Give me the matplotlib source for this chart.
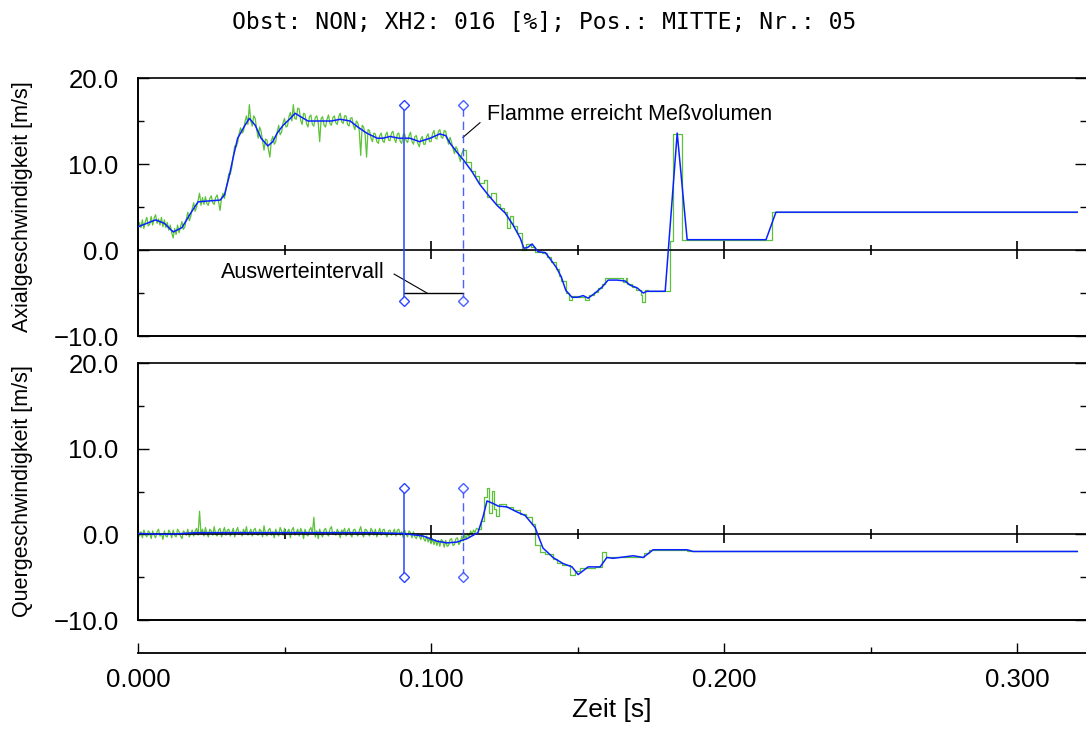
import numpy as np
import matplotlib
matplotlib.use("Agg")
import matplotlib.pyplot as plt
from matplotlib.ticker import MultipleLocator, FuncFormatter

plt.rcParams['font.family'] = ['Liberation Sans', 'DejaVu Sans']

TITLE = "Obst: NON; XH2: 016 [%]; Pos.: MITTE; Nr.: 05"
YLABEL_TOP = "Axialgeschwindigkeit [m/s]"
YLABEL_BOT = "Quergeschwindigkeit [m/s]"
XLABEL = "Zeit [s]"

# evaluation interval
T_START = 0.0908
T_END = 0.1108
MARK_TOP = [-5.9, 16.9]
MARK_BOT = [-5.0, 5.4]
INTERVAL_LEVEL = -5.0

# raw signal, dense part sampled every SAMPLE_DT
SAMPLE_DT = 0.0005
top_raw_dense = [
    2.3, 3.2, 2.6, 3.5, 2.5, 3.3, 3.8, 2.8, 3.0, 3.9,
    2.9, 3.7, 4.1, 3.1, 3.6, 2.9, 3.8, 2.7, 3.5, 2.6,
    3.2, 2.3, 2.9, 2.0, 1.4, 2.5, 1.8, 2.9, 2.0, 2.7,
    3.3, 2.4, 2.7, 3.6, 4.4, 3.4, 3.9, 4.8, 5.5, 4.5,
    5.0, 5.8, 6.6, 5.2, 6.1, 5.3, 6.2, 5.4, 5.2, 6.0,
    6.3, 5.5, 5.3, 6.1, 6.4, 5.6, 4.6, 6.0, 6.6, 6.0,
    7.0, 7.9, 8.9, 8.8, 9.6, 10.9, 12.1, 12.0, 12.5, 13.5,
    14.2, 13.6, 13.8, 14.9, 15.6, 14.6, 16.9, 15.0, 14.4, 15.6,
    15.3, 14.0, 13.0, 14.3, 13.8, 12.7, 11.6, 12.9, 12.8, 11.7,
    10.8, 12.7, 13.2, 12.3, 12.6, 13.7, 14.5, 13.4, 13.7, 14.8,
    15.3, 14.3, 14.4, 15.5, 16.0, 15.0, 16.9, 15.3, 15.2, 16.5,
    16.4, 15.1, 14.6, 15.9, 15.8, 14.7, 14.3, 15.5, 15.7, 14.6,
    14.4, 15.4, 15.6, 14.8, 12.6, 15.3, 15.5, 14.5, 14.3, 15.2,
    15.7, 14.7, 14.5, 15.4, 15.6, 14.8, 14.6, 15.5, 15.9, 14.9,
    14.7, 15.6, 15.6, 14.6, 14.4, 15.3, 15.4, 14.5, 14.0, 15.0,
    14.8, 13.9, 11.0, 14.5, 14.3, 13.4, 10.8, 14.0, 13.9, 13.0,
    12.6, 13.6, 13.5, 12.6, 12.4, 13.3, 13.6, 12.7, 12.5, 13.4,
    13.7, 12.8, 12.7, 13.6, 13.8, 12.9, 12.5, 13.5, 13.6, 12.6,
    12.4, 13.4, 13.5, 12.7, 12.5, 13.3, 13.7, 12.6, 12.3, 13.2,
    13.3, 12.4, 12.0, 12.9, 13.2, 12.3, 12.3, 13.2, 13.5, 12.6,
    12.6, 13.5, 13.9, 13.0, 12.9, 13.8, 14.0, 13.1, 13.0, 13.9,
    13.8, 12.9, 12.3, 13.1, 12.5, 11.8, 11.2, 12.0, 11.7, 10.9,
    10.3, 11.2, 11.6,
]
# raw signal, held (step) part
top_raw_step_t = [
    0.112, 0.1135, 0.115, 0.1165, 0.118, 0.119, 0.1205, 0.122, 0.1235, 0.125,
    0.1258, 0.1268, 0.128, 0.1295, 0.131, 0.1325, 0.134, 0.1355, 0.138, 0.1395,
    0.141, 0.1425, 0.1435, 0.1445, 0.146, 0.147, 0.148, 0.150, 0.1525, 0.154,
    0.1555, 0.157, 0.1585, 0.1595, 0.162, 0.1655, 0.1665, 0.167, 0.1685, 0.170,
    0.1715, 0.172, 0.173, 0.174, 0.1816, 0.1826, 0.1857, 0.2164, 0.3205,
]
top_raw_step_v = [
    10.2, 9.2, 8.6, 7.8, 8.1, 6.2, 6.6, 5.4, 4.9, 4.4,
    2.6, 4.0, 2.8, 2.0, 0.0, 0.7, 0.4, -0.2, -0.3, -0.8,
    -1.4, -2.2, -3.0, -3.6, -5.0, -5.8, -5.3, -5.5, -5.8, -5.2,
    -4.9, -4.4, -4.0, -3.3, -3.3, -3.7, -3.2, -3.9, -4.3, -4.7,
    -5.2, -6.0, -4.6, -4.8, 1.0, 13.5, 1.2, 4.4, 4.4,
]
# smoothed signal
top_smooth_t = [
    0.0, 0.003, 0.006, 0.009, 0.012, 0.015, 0.018, 0.0205, 0.024, 0.028,
    0.0295, 0.031, 0.0325, 0.034, 0.0365, 0.038, 0.040, 0.042, 0.0443, 0.046,
    0.0475, 0.0495, 0.052, 0.0536, 0.0555, 0.058, 0.062, 0.066, 0.069, 0.0724,
    0.075, 0.078, 0.0816, 0.0836, 0.086, 0.089, 0.0928, 0.096, 0.0997, 0.103,
    0.105, 0.1065, 0.109, 0.111, 0.114, 0.1167, 0.1195, 0.1225, 0.1253, 0.128,
    0.1304, 0.1317, 0.133, 0.1345, 0.1365, 0.139, 0.141, 0.1427, 0.1444, 0.146,
    0.1481, 0.150, 0.1519, 0.1536, 0.156, 0.1584, 0.1604, 0.1635, 0.1662, 0.168,
    0.1703, 0.1724, 0.1737, 0.1799, 0.184, 0.1874, 0.2143, 0.2177, 0.3205,
]
top_smooth_v = [
    2.7, 3.1, 3.5, 3.1, 2.1, 2.6, 4.3, 5.6, 5.7, 5.8,
    6.4, 8.4, 10.8, 13.0, 14.5, 15.3, 14.5, 13.0, 12.1, 12.6,
    13.6, 14.5, 15.3, 15.9, 15.5, 15.0, 15.0, 15.0, 15.2, 15.0,
    14.3, 13.6, 13.0, 13.0, 13.2, 13.0, 13.0, 12.6, 13.0, 13.5,
    13.3, 12.4, 11.3, 10.5, 9.1, 7.6, 6.4, 5.2, 4.3, 2.9,
    1.4, 0.2, 0.3, 0.7, -0.2, -0.3, -1.2, -2.0, -3.1, -4.7,
    -5.5, -5.5, -5.3, -5.6, -5.0, -4.3, -3.5, -3.5, -3.6, -4.1,
    -4.4, -5.0, -4.8, -4.8, 13.6, 1.2, 1.2, 4.4, 4.4,
]

bot_raw_dense = [
    0.6, -0.2, 0.3, -0.4, 0.5, 0.0, -0.3, 0.4, 0.2, -0.5,
    0.4, -0.1, -0.4, 0.3, 0.6, -0.2, 0.1, -0.6, 0.4, -0.2,
    -0.3, 0.5, 0.2, -0.4, 0.5, -0.1, -0.3, 0.6, 0.3, -0.2,
    -0.5, 0.4, 0.2, -0.1, 0.6, -0.3, 0.1, 0.5, -0.2, 0.4,
    0.7, -0.1, 2.7, 0.0, 0.6, -0.2, 0.8, 0.1, -0.3, 0.6,
    0.4, -0.1, 0.9, 0.0, -0.2, 0.5, 0.7, -0.3, 0.3, 0.8,
    -0.1, 0.5, 0.6, -0.2, 0.2, 0.7, -0.3, 0.4, 0.8, 0.0,
    0.3, -0.2, 0.6, 0.1, 0.9, -0.1, 0.2, 0.6, -0.2, 0.5,
    0.7, 0.0, -0.1, 0.6, 0.4, -0.3, 1.0, 0.1, -0.2, 0.5,
    0.7, -0.1, 0.3, -0.4, 0.6, 0.1, -0.2, 0.8, 0.4, -0.1,
    0.7, 0.0, 0.3, 0.6, -0.4, 0.5, 0.8, -0.1, 0.2, 0.6,
    -0.2, 0.7, 0.3, -0.5, 0.6, 0.0, -0.2, 0.5, 0.8, 0.1,
    2.0, -0.3, 0.4, -0.5, 0.6, 0.0, -0.3, 0.5, 0.7, 0.1,
    -0.2, 0.6, 0.9, 0.0, 0.3, -0.1, 0.6, 0.2, -0.4, 0.5,
    0.3, 0.7, -0.2, 0.4, 0.7, 0.0, -0.3, 0.5, 0.6, 0.1,
    -0.2, 0.4, 0.9, 0.0, -0.3, 0.6, 0.5, 0.1, -0.2, 0.7,
    0.4, -0.1, 0.6, -0.3, 0.2, 0.7, -0.1, 0.5, 0.6, 0.0,
    -0.3, 0.4, 0.5, -0.1, 0.2, 0.6, -0.2, 0.5, 0.6, -0.1,
    0.3, -0.4, 0.5, 0.0, -0.3, 0.4, 0.2, -0.4, 0.3, -0.3,
    -0.5, 0.1, -0.2, -0.6, 0.0, -0.5, -0.8, -0.2, -0.9, -0.4,
    -1.1, -0.5, -1.2, -0.6, -1.3, -0.7, -1.4, -0.6, -0.8, -1.5,
    -0.7, -1.4, -1.3, -0.6, -0.5, -1.3, -1.2, -0.5, -0.4, -1.2,
    -0.9, -0.2, -0.8, -0.1, -0.5, 0.1, -0.3, 0.4, 0.0, 0.5,
    0.2, 0.7, 0.6,
]
bot_raw_step_t = [
    0.117, 0.118, 0.1192, 0.1198, 0.1208, 0.1215, 0.1222, 0.1232, 0.1255, 0.128,
    0.1305, 0.1325, 0.1345, 0.1355, 0.1372, 0.139, 0.1415, 0.143, 0.1448, 0.1475,
    0.149, 0.151, 0.156, 0.1585, 0.1598, 0.164, 0.1705, 0.1725, 0.1745, 0.1875,
    0.3205,
]
bot_raw_step_v = [
    1.6, 4.4, 5.4, 2.5, 5.1, 3.0, 2.1, 3.5, 3.2, 2.8,
    2.4, 2.0, 1.2, -1.2, -2.1, -2.3, -2.9, -3.3, -3.6, -4.8,
    -4.3, -3.9, -3.8, -2.1, -2.7, -2.6, -2.7, -2.2, -1.8, -2.0,
    -2.0,
]
bot_smooth_t = [
    0.0, 0.01, 0.015, 0.02, 0.05, 0.08, 0.0904, 0.0973, 0.102, 0.1055,
    0.1089, 0.1123, 0.116, 0.1177, 0.1191, 0.1212, 0.1229, 0.1259, 0.1294, 0.1321,
    0.1355, 0.1382, 0.1416, 0.145, 0.1481, 0.1502, 0.1536, 0.1577, 0.160, 0.1621,
    0.169, 0.1724, 0.1758, 0.1874, 0.1894, 0.3205,
]
bot_smooth_v = [
    0.1, 0.0, 0.1, 0.2, 0.2, 0.2, 0.1, -0.2, -0.8, -1.0,
    -0.9, -0.5, 0.2, 2.0, 3.9, 3.6, 3.3, 3.2, 2.6, 2.2,
    0.8, -1.6, -2.7, -3.4, -3.8, -4.7, -3.8, -3.8, -2.7, -2.8,
    -2.5, -2.7, -1.8, -1.8, -2.0, -2.0,
]

GREEN = '#5cc23a'
BLUE = '#0a22ff'
MARK_BLUE = '#2a44ff'
XMAX = 0.3235

W, H = 1086, 729


def box(l, t, r, b):
    return [l / W, 1 - b / H, (r - l) / W, (b - t) / H]


def minus_fmt(v, pos):
    return f"{v:.1f}".replace('-', '\u2212')


def style_panel(ax):
    ax.set_xlim(0, XMAX)
    ax.set_ylim(-10, 20)
    ax.yaxis.set_major_locator(MultipleLocator(10))
    ax.yaxis.set_minor_locator(MultipleLocator(5))
    ax.yaxis.set_major_formatter(FuncFormatter(minus_fmt))
    ax.tick_params(axis='y', which='both', direction='in', left=True, right=True,
                   labelsize=18.5, pad=14, width=1)
    ax.tick_params(axis='y', which='major', length=8)
    ax.tick_params(axis='y', which='minor', length=4.5)
    # x ticks sit on the zero line
    ax.xaxis.set_major_locator(MultipleLocator(0.1))
    ax.xaxis.set_minor_locator(MultipleLocator(0.05))
    ax.tick_params(axis='x', which='both', direction='inout', labelbottom=False,
                   width=1.2)
    ax.tick_params(axis='x', which='major', length=12.5)
    ax.tick_params(axis='x', which='minor', length=7)
    ax.spines['bottom'].set_position(('data', 0))
    ax.spines['bottom'].set_linewidth(1.2)
    ax.spines['right'].set_visible(False)
    ax.spines['left'].set_linewidth(1.4)
    ax.spines['top'].set_linewidth(1.2)
    ax.plot([0, 1], [0, 0], transform=ax.transAxes, color='k', lw=1.4, clip_on=False)


def draw_signal(ax, dense, step_t, step_v, smooth_t, smooth_v, marks):
    t_dense = np.arange(len(dense)) * SAMPLE_DT
    ax.plot(t_dense, dense, color=GREEN, lw=0.9, zorder=2)
    st = np.concatenate([[t_dense[-1]], step_t])
    sv = np.concatenate([[dense[-1]], step_v])
    ax.plot(st, sv, color=GREEN, lw=0.9, drawstyle='steps-post', zorder=2)
    ax.plot(smooth_t, smooth_v, color=BLUE, lw=1.1, zorder=3)
    ax.plot([T_START, T_START], marks, color=MARK_BLUE, lw=1.1, marker='D', ms=5.5,
            mfc='white', mec=MARK_BLUE, mew=1, zorder=4)
    ax.plot([T_END, T_END], marks, color=MARK_BLUE, lw=1.0, dashes=(6, 3.5), alpha=0.85,
            marker='D', ms=5.5, mfc='white', mec=MARK_BLUE, mew=1, zorder=4)


fig = plt.figure(figsize=(W / 100, H / 100), dpi=100)
ax1 = fig.add_axes(box(138, 78, 1086, 336))
ax2 = fig.add_axes(box(138, 363, 1086, 620))
ax3 = fig.add_axes(box(138, 652, 1086, 653))

for ax in (ax1, ax2):
    style_panel(ax)

draw_signal(ax1, top_raw_dense, top_raw_step_t, top_raw_step_v,
            top_smooth_t, top_smooth_v, MARK_TOP)
draw_signal(ax2, bot_raw_dense, bot_raw_step_t, bot_raw_step_v,
            bot_smooth_t, bot_smooth_v, MARK_BOT)

# annotations in the upper panel
ax1.plot([T_START, T_END], [INTERVAL_LEVEL, INTERVAL_LEVEL], color='k', lw=1, zorder=3)
ax1.text(0.0843, -2.56, "Auswerteintervall", ha='right', va='center', fontsize=15.5)
ax1.plot([0.0874, 0.0986], [-2.8, INTERVAL_LEVEL], color='k', lw=0.8)
ax1.text(0.1191, 15.7, "Flamme erreicht Me\u00dfvolumen", ha='left', va='center', fontsize=15.5)
ax1.plot([0.1167, 0.1109], [14.8, 13.1], color='k', lw=0.8)

# separate time axis below
ax3.set_xlim(0, XMAX)
ax3.set_ylim(0, 1)
for s in ('left', 'right', 'top'):
    ax3.spines[s].set_visible(False)
ax3.spines['bottom'].set_linewidth(1.3)
ax3.set_yticks([])
ax3.xaxis.set_major_locator(MultipleLocator(0.1))
ax3.xaxis.set_minor_locator(MultipleLocator(0.05))
ax3.xaxis.set_major_formatter(FuncFormatter(lambda v, p: f"{v:.3f}"))
ax3.tick_params(axis='x', which='both', direction='in', labelsize=18.5, pad=11, width=1)
ax3.tick_params(axis='x', which='major', length=7)
ax3.tick_params(axis='x', which='minor', length=4.3)
ax3.patch.set_visible(False)

fig.text(23 / W, 1 - 207 / H, YLABEL_TOP, rotation=90, ha='center', va='center', fontsize=15.5)
fig.text(23 / W, 1 - 491 / H, YLABEL_BOT, rotation=90, ha='center', va='center', fontsize=15.5)
fig.text(612 / W, 1 - 710 / H, XLABEL, ha='center', va='center', fontsize=19)
fig.text(544 / W, 1 - 22 / H, TITLE, ha='center', va='center', fontsize=16.6,
         family='DejaVu Sans Mono')

fig.savefig('out.png', dpi=100)
